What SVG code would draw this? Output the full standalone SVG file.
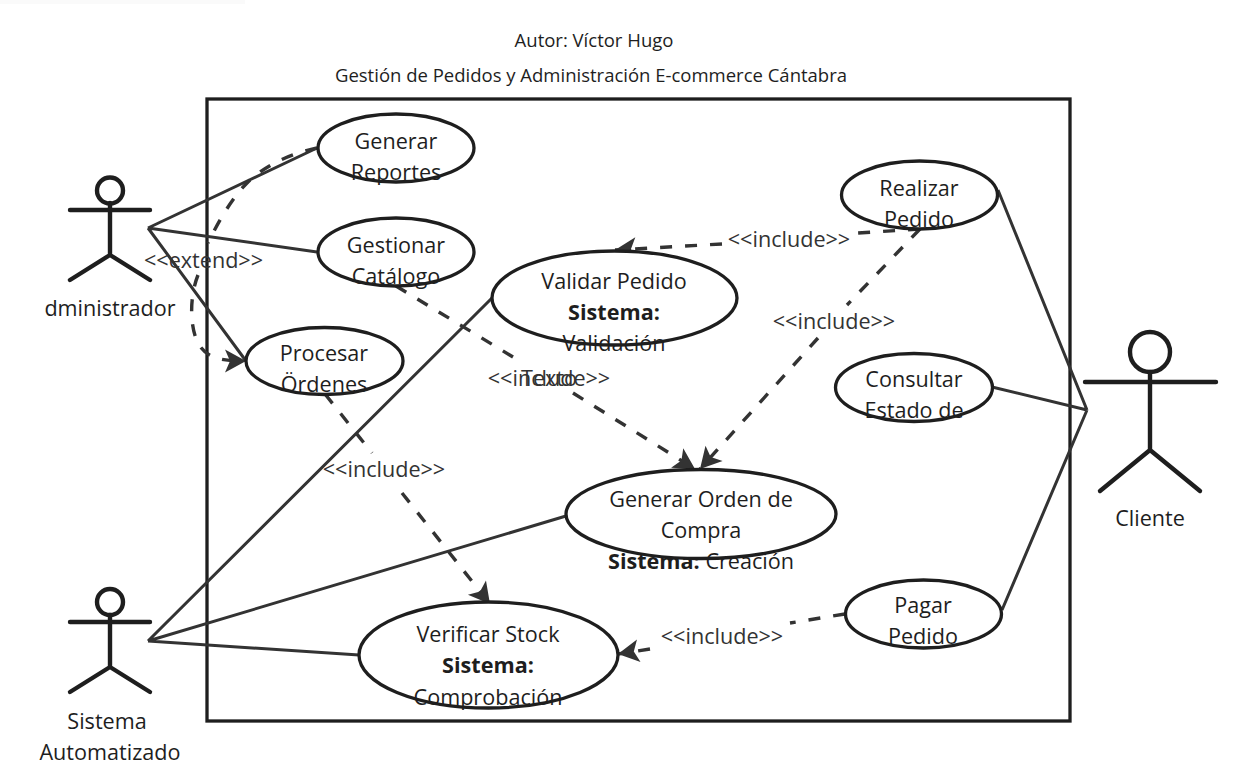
<svg xmlns="http://www.w3.org/2000/svg" width="1243" height="782" viewBox="0 0 1243 782">
<style>
text{font-family:"Open Sans","Noto Sans","Liberation Sans",sans-serif;fill:#1e1e1e;text-anchor:middle}
.t{font-size:18.500px}
.n{font-size:21.600px}
.b{font-weight:700}
.l{font-size:21.600px;fill:#333}
.u{fill:#fff;stroke:#1e1e1e;stroke-width:3.300}
.a{fill:none;stroke:#1e1e1e;stroke-width:4.400;stroke-linecap:round}
.s{fill:none;stroke:#333;stroke-width:3}
.d{fill:none;stroke:#333;stroke-width:3.400;stroke-dasharray:12 13}
</style>
<defs>
<marker id="arr" markerUnits="userSpaceOnUse" markerWidth="24" markerHeight="24" refX="22" refY="12" orient="auto" viewBox="0 0 24 24">
<path d="M1 0.500L22 12L1 23.500L6 12Z" fill="#333"/>
</marker>
</defs>
<rect width="245" height="4" fill="#fafafa"/>
<text class="t" x="594" y="47">Autor: Víctor Hugo</text>
<text class="t" x="591" y="82">Gestión de Pedidos y Administración E-commerce Cántabra</text>
<rect x="207" y="99" width="863" height="622" fill="none" stroke="#1e1e1e" stroke-width="3.300"/>
<g id="connectors">
<path class="s" d="M148 228L317 148M148 228L317 252M148 228L246 361"/>
<path class="s" d="M148 641L492 298M148 641L566 516M148 641L359 655"/>
<path class="s" d="M1087 410L998 190M1087 410L992 387M1087 410L1002 610"/>
<path class="d" d="M317 148C285 155 262 168 247 183C232 198 218 222 208 243"/>
<path class="d" d="M198 275C190 295 189 325 198 343C207 360 225 361 246 361" marker-end="url(#arr)"/>
<path class="d" d="M396 286L513 357"/>
<path class="d" d="M573 393L695 469" marker-end="url(#arr)"/>
<path class="d" d="M920 229L847 305"/>
<path class="d" d="M818 338L700 469" marker-end="url(#arr)"/>
<path class="d" d="M920 229L858 233"/>
<path class="d" d="M722 244L615 250" marker-end="url(#arr)"/>
<path class="d" d="M325 394L372 453"/>
<path class="d" d="M402 493L490 604" marker-end="url(#arr)"/>
<path class="d" d="M845 614L790 623"/>
<path class="d" d="M650 649L618 654" marker-end="url(#arr)"/>
<text class="l" x="203.500" y="268">&lt;&lt;extend&gt;&gt;</text>
<text class="l" x="549" y="386">&lt;&lt;include&gt;&gt;</text>
<text class="l" x="549" y="386">Texto</text>
<text class="l" x="789" y="247">&lt;&lt;include&gt;&gt;</text>
<text class="l" x="834" y="329">&lt;&lt;include&gt;&gt;</text>
<text class="l" x="384" y="477">&lt;&lt;include&gt;&gt;</text>
<text class="l" x="722" y="644">&lt;&lt;include&gt;&gt;</text>
</g>
<g id="actor-administrador">
<circle class="a" cx="110" cy="190.500" r="13"/>
<path class="a" d="M70 210H150M110 203V255M110 255L70 280M110 255L150 280"/>
<text class="n" x="110" y="316">dministrador</text>
</g>
<g id="actor-sistema">
<circle class="a" cx="110" cy="602" r="13"/>
<path class="a" d="M70 622H150M110 615V667M110 667L70 692M110 667L150 692"/>
<text class="n" x="107" y="729">Sistema</text>
<text class="n" x="110" y="760">Automatizado</text>
</g>
<g id="actor-cliente">
<circle class="a" cx="1150" cy="352" r="20"/>
<path class="a" d="M1085 382H1216M1150 372V450M1150 450L1100 491M1150 450L1200 491"/>
<text class="n" x="1150" y="526">Cliente</text>
</g>
<g id="uc-reportes"><ellipse class="u" cx="396" cy="148" rx="78" ry="34"/><text class="n" x="396" y="149">Generar</text><text class="n" x="396" y="180">Reportes</text></g>
<g id="uc-catalogo"><ellipse class="u" cx="396" cy="252" rx="78" ry="34"/><text class="n" x="396" y="253">Gestionar</text><text class="n" x="396" y="284">Catálogo</text></g>
<g id="uc-ordenes"><ellipse class="u" cx="324.500" cy="361" rx="78.500" ry="33.500"/><text class="n" x="324" y="361">Procesar</text><text class="n" x="324" y="392">Ördenes</text></g>
<g id="uc-validar"><ellipse class="u" cx="614.500" cy="298" rx="122.500" ry="47"/><text class="n" x="614" y="289">Validar Pedido</text><text class="n b" x="614" y="320">Sistema:</text><text class="n" x="614" y="351">Validación</text></g>
<g id="uc-realizar"><ellipse class="u" cx="919.500" cy="195" rx="78" ry="34"/><text class="n" x="919" y="196">Realizar</text><text class="n" x="919" y="227">Pedido</text></g>
<g id="uc-consultar"><ellipse class="u" cx="914" cy="387.500" rx="78.500" ry="34"/><text class="n" x="914" y="387">Consultar</text><text class="n" x="914" y="418">Estado de</text></g>
<g id="uc-orden"><ellipse class="u" cx="701" cy="514" rx="135" ry="44.500"/><text class="n" x="701" y="507">Generar Orden de</text><text class="n" x="701" y="538">Compra</text><text class="n" x="701" y="569"><tspan class="b">Sistema:</tspan> Creación</text></g>
<g id="uc-stock"><ellipse class="u" cx="488.500" cy="655" rx="129.500" ry="53"/><text class="n" x="488" y="642">Verificar Stock</text><text class="n b" x="488" y="673">Sistema:</text><text class="n" x="488" y="705">Comprobación</text></g>
<g id="uc-pagar"><ellipse class="u" cx="923.500" cy="614" rx="78" ry="34"/><text class="n" x="923" y="613">Pagar</text><text class="n" x="923" y="644">Pedido</text></g>
</svg>
